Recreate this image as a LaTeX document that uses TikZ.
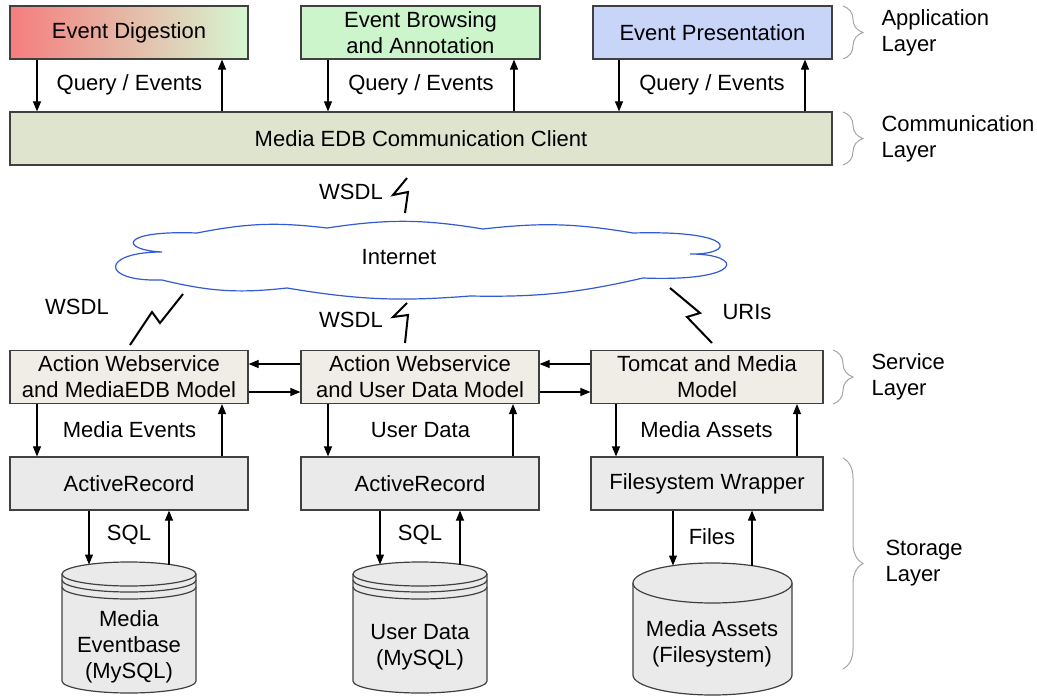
\documentclass[tikz,border=0pt]{standalone}
\usepackage{fontspec}
\setmainfont{Liberation Sans}
\usetikzlibrary{arrows.meta,decorations.pathreplacing}

\definecolor{edgegray}{RGB}{64,64,64}
\definecolor{digleft}{RGB}{245,125,125}
\definecolor{digright}{RGB}{214,246,210}
\definecolor{brwfill}{RGB}{204,245,204}
\definecolor{prsfill}{RGB}{200,212,248}
\definecolor{commfill}{RGB}{222,228,206}
\definecolor{svcfill}{RGB}{240,236,230}
\definecolor{recfill}{RGB}{234,234,234}
\definecolor{cloudblue}{RGB}{50,90,210}
\definecolor{bracegray}{RGB}{165,165,165}

\tikzset{
  box/.style={draw=edgegray, line width=1.2pt, inner sep=0pt, minimum height=53pt, align=center},
  flow/.style={-{Triangle[length=10pt,width=8pt]}, line width=1.1pt},
  bolt/.style={line width=2pt, line join=miter},
  layerbrace/.style={decorate, decoration={brace, amplitude=20pt}, draw=bracegray, line width=1pt},
  dbbody/.style={draw=edgegray, line width=1.2pt, fill=recfill}
}

\begin{document}
\begin{tikzpicture}[x=1pt, y=-1pt, font=\fontsize{22}{26}\selectfont]
  \useasboundingbox (0,0) rectangle (1037,696);

  % application layer
  \node[box, left color=digleft, right color=digright, minimum width=238pt] (dig) at (129,32.5) {Event Digestion};
  \node[box, fill=brwfill, minimum width=239pt] (brw) at (420.5,32.5) {Event Browsing\\and Annotation};
  \node[box, fill=prsfill, minimum width=239pt] (prs) at (712.5,32.5) {Event Presentation};

  % communication layer
  \node[box, fill=commfill, minimum width=822pt] (comm) at (421,138.5) {Media EDB Communication Client};

  \foreach \n/\dn/\up in {dig/37/222, brw/328/514, prs/619/805} {
    \draw[flow] (\n.south -| \dn,0) -- (comm.north -| \dn,0);
    \draw[flow] (comm.north -| \up,0) -- (\n.south -| \up,0);
  }
  \node (qe1) at (129.5,85) {Query / Events};
  \node (qe2) at (421,85) {Query / Events};
  \node (qe3) at (712,85) {Query / Events};

  % internet
  \draw[cloudblue, line width=1.2pt, fill=white]
    (197,233) to[bend left=9] (327,228) to[bend left=9] (483,229) to[bend left=8] (633,233)
    .. controls (740,230) and (735,255) .. (690,254)
    .. controls (745,254) and (745,282) .. (643,278)
    to[bend left=7] (470,296) to[bend left=7] (287,288) to[bend left=10] (162,280)
    .. controls (100,282) and (100,252) .. (162,252)
    .. controls (120,250) and (118,230) .. (197,233) -- cycle;
  \node (net) at (399,257) {Internet};

  \draw[bolt] (407,178) -- (393,195) -- (408,192) -- (405,213);
  \draw[bolt] (183,294) -- (160,323) -- (152,312) -- (130,345);
  \draw[bolt] (407,303) -- (393,317) -- (408,315) -- (405,343);
  \draw[bolt] (670,288) -- (700,313) -- (687,317) -- (712,343);
  \node (wsdl1) at (351,192) {WSDL};
  \node (wsdl2) at (77,307) {WSDL};
  \node (wsdl3) at (351,320) {WSDL};
  \node (uris) at (747,312) {URIs};

  % service layer
  \node[box, fill=svcfill, minimum width=238pt] (medsvc) at (129,377) {Action Webservice\\and MediaEDB Model};
  \node[box, fill=svcfill, minimum width=238pt] (usrsvc) at (420,377) {Action Webservice\\and User Data Model};
  \node[box, fill=svcfill, minimum width=232pt] (tomsvc) at (707,377) {Tomcat and Media\\Model};

  \draw[flow] (usrsvc.west |- 0,364) -- (medsvc.east |- 0,364);
  \draw[flow] (medsvc.east |- 0,392) -- (usrsvc.west |- 0,392);
  \draw[flow] (tomsvc.west |- 0,364) -- (usrsvc.east |- 0,364);
  \draw[flow] (usrsvc.east |- 0,392) -- (tomsvc.west |- 0,392);

  % storage layer
  \node[box, fill=recfill, minimum width=238pt] (medrec) at (129,483.5) {ActiveRecord};
  \node[box, fill=recfill, minimum width=238pt] (usrrec) at (420,483.5) {ActiveRecord};
  \node[box, fill=recfill, minimum width=232pt] (fswrap) at (707,483.5) {Filesystem Wrapper};

  \foreach \s/\r/\dn/\up in {medsvc/medrec/37/222, usrsvc/usrrec/328/513, tomsvc/fswrap/616/797} {
    \draw[flow] (\s.south -| \dn,0) -- (\r.north -| \dn,0);
    \draw[flow] (\r.north -| \up,0) -- (\s.south -| \up,0);
  }
  \node (medev) at (129.5,430) {Media Events};
  \node (usrdat) at (420.5,430) {User Data};
  \node (medass) at (706.5,430) {Media Assets};

  % databases
  \foreach \cx in {129,420} {
    \draw[dbbody] (\cx-67,574) -- (\cx-67,681) arc[start angle=180, end angle=0, x radius=67, y radius=12] -- (\cx+67,574);
    \draw[dbbody] (\cx,574) ellipse[x radius=67, y radius=12];
    \draw[draw=edgegray, line width=1.2pt] (\cx-67,580) arc[start angle=180, end angle=0, x radius=67, y radius=12];
    \draw[draw=edgegray, line width=1.2pt] (\cx-67,587) arc[start angle=180, end angle=0, x radius=67, y radius=12];
  }
  \draw[dbbody] (633,583) -- (633,675) arc[start angle=180, end angle=0, x radius=79.5, y radius=20] -- (792,583);
  \draw[dbbody] (712.5,583) ellipse[x radius=79.5, y radius=20];

  \node[align=center] (meddb) at (129,647) {Media\\Eventbase\\(MySQL)};
  \node[align=center] (usrdb) at (420,647) {User Data\\(MySQL)};
  \node[align=center] (assetdb) at (712,643.5) {Media Assets\\(Filesystem)};

  \coordinate (medin) at (89,564.5);
  \coordinate (medout) at (169,564.5);
  \coordinate (usrin) at (380,564.5);
  \coordinate (usrout) at (460,564.5);
  \coordinate (assin) at (673,565.5);
  \coordinate (assout) at (752,565.5);
  \draw[flow] (medrec.south -| medin) -- (medin);
  \draw[flow] (medout) -- (medrec.south -| medout);
  \draw[flow] (usrrec.south -| usrin) -- (usrin);
  \draw[flow] (usrout) -- (usrrec.south -| usrout);
  \draw[flow] (fswrap.south -| assin) -- (assin);
  \draw[flow] (assout) -- (fswrap.south -| assout);
  \node (sql1) at (129,535) {SQL};
  \node (sql2) at (420,535) {SQL};
  \node (files) at (712,537) {Files};

  % layers
  \draw[layerbrace] (843,6) -- (843,59);
  \draw[layerbrace] (843,112) -- (843,165);
  \draw[layerbrace] (833,350) -- (833,404);
  \draw[layerbrace] (843,458) -- (843,669);
  \node[anchor=west, align=left] (applbl) at (878,32.5) {Application\\Layer};
  \node[anchor=west, align=left] (commlbl) at (878,139) {Communication\\Layer};
  \node[anchor=west, align=left] (svclbl) at (868,377) {Service\\Layer};
  \node[anchor=west, align=left] (storlbl) at (882,563.5) {Storage\\Layer};
\end{tikzpicture}
\end{document}
